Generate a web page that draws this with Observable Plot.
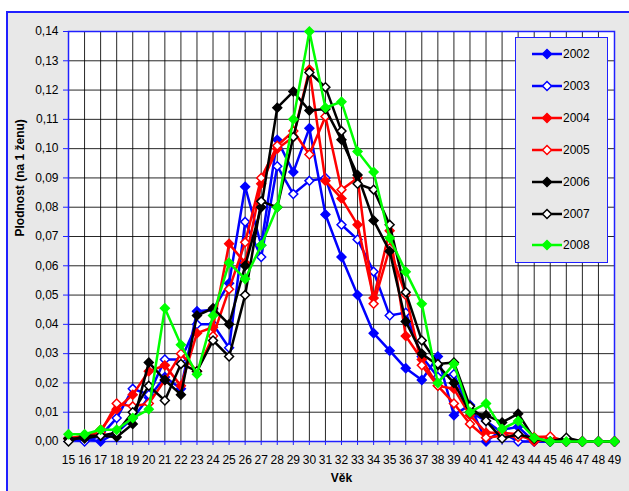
<!DOCTYPE html>
<html><head><meta charset="utf-8">
<script src="https://cdn.jsdelivr.net/npm/d3@7"></script>
<script src="https://cdn.jsdelivr.net/npm/@observablehq/plot@0.6"></script>
<style>
html,body{margin:0;padding:0;background:#fff;overflow:hidden;width:629px;height:491px;position:relative;}
#frame{position:absolute;left:6px;top:11px;width:640px;height:500px;background:#e8e8e8;border:2px solid #2020ff;box-sizing:border-box;}
#chart{position:absolute;left:0;top:0;}
#legend{position:absolute;left:515px;top:37px;width:93px;height:226px;background:#e8e8e8;border:1.5px solid #2020ff;box-sizing:border-box;font-family:"Liberation Sans",Arial,sans-serif;font-size:12px;}
.item{position:absolute;left:0;height:14px;}
.item svg{position:absolute;left:15px;top:0;}
.item span{position:absolute;left:47px;top:0;line-height:14px;}
</style></head><body>
<div id="frame"></div>
<div id="chart"></div>
<div id="legend"></div>
<script>
const ages = [15,16,17,18,19,20,21,22,23,24,25,26,27,28,29,30,31,32,33,34,35,36,37,38,39,40,41,42,43,44,45,46,47,48,49];
const yTicks = [0,0.01,0.02,0.03,0.04,0.05,0.06,0.07,0.08,0.09,0.10,0.11,0.12,0.13,0.14];
const years = ["2002","2003","2004","2005","2006","2007","2008"];

const y2002 = [0.001,0.001,0.000,0.003,0.008,0.015,0.022,0.018,0.0445,0.045,0.054,0.087,0.067,0.103,0.092,0.107,0.0775,0.063,0.050,0.037,0.031,0.025,0.021,0.029,0.009,0.0125,0.000,0.004,0.005,0,0,0,0,0,0];
const y2003 = [0.001,0.000,0.002,0.008,0.018,0.016,0.028,0.028,0.040,0.040,0.032,0.075,0.063,0.094,0.0845,0.089,0.090,0.074,0.069,0.058,0.043,0.044,0.029,0.022,0.023,0.010,0.007,0.003,0.000,0,0,0,0,0,0];
const y2004 = [0.001,0.002,0.004,0.011,0.016,0.024,0.026,0.019,0.037,0.039,0.0675,0.061,0.088,0.100,0.104,0.127,0.089,0.083,0.074,0.049,0.072,0.036,0.028,0.019,0.018,0.009,0.003,0.003,0.0025,0,0.001,0,0,0,0];
const y2005 = [0.001,0.002,0.003,0.013,0.012,0.013,0.021,0.030,0.024,0.036,0.052,0.068,0.090,0.101,0.106,0.098,0.111,0.086,0.090,0.047,0.066,0.050,0.026,0.019,0.013,0.006,0.0013,0.002,0.0015,0.0015,0.0017,0,0,0,0];
const y2006 = [0.001,0.001,0.002,0.0015,0.006,0.027,0.021,0.016,0.043,0.0455,0.040,0.060,0.080,0.114,0.1195,0.113,0.1135,0.103,0.091,0.0755,0.065,0.041,0.030,0.026,0.020,0.010,0.009,0.0065,0.0095,0.001,0,0,0,0,0];
const y2007 = [0.000,0.002,0.002,0.003,0.010,0.019,0.014,0.0265,0.024,0.0345,0.029,0.050,0.082,0.080,0.104,0.126,0.121,0.106,0.088,0.086,0.074,0.051,0.0345,0.0265,0.027,0.012,0.007,0.001,0.0025,0.001,0,0.0013,0,0,0];
const y2008 = [0.0025,0.0025,0.004,0.004,0.008,0.011,0.0455,0.033,0.023,0.043,0.061,0.0555,0.067,0.080,0.110,0.140,0.114,0.116,0.099,0.092,0.0695,0.058,0.047,0.020,0.0265,0.010,0.013,0.0043,0.007,0.0013,0,0,0,0,0];

const seriesValues = [y2002,y2003,y2004,y2005,y2006,y2007,y2008];
const colors = ["#0000ff","#0000ff","#ff0000","#ff0000","#000000","#000000","#00ff00"];
const filled = [true,false,true,false,true,false,true];

const rows = years.map((yr,i)=> ages.map((a,j)=>({year:yr, age:a, value:seriesValues[i][j]})));
const fmt = d => d.toFixed(2).replace(".", ",");

const marks = [
  Plot.frame({fill:"white", stroke:null}),
  Plot.gridX({ticks: ages, stroke:"#000", strokeOpacity:0.85}),
  Plot.gridY({ticks: yTicks, stroke:"#000", strokeOpacity:0.85}),
  Plot.frame({stroke:"#2020ff", strokeWidth:1.5}),
  Plot.axisY({ticks: yTicks, tickFormat: fmt, tickSize:5, tickPadding:5, stroke:"#2020ff", color:"#000", label:null}),
  Plot.axisX({ticks: ages, tickFormat: d=>String(d), tickSize:4, tickPadding:10, stroke:"#2020ff", color:"#000", label:null}),
  Plot.text(["Plodnost (na 1 ženu)"], {text:d=>d, frameAnchor:"left", dx:-48, rotate:-90, fontWeight:"bold", fontSize:12, fill:"#000"}),
  Plot.text(["Věk"], {text:d=>d, frameAnchor:"bottom", dy:40, fontWeight:"bold", fontSize:12, fill:"#000"})
];
rows.forEach((data,i)=>{
  marks.push(Plot.line(data,{x:"age", y:"value", stroke:colors[i], strokeWidth:2.5}));
  marks.push(Plot.dot(data,{x:"age", y:"value", symbol:"diamond2", r:4, fill: filled[i]?colors[i]:"#fff", stroke:colors[i], strokeWidth:1.5}));
});

const chart = Plot.plot({
  width:629, height:491,
  marginLeft:68, marginRight:15, marginTop:31, marginBottom:50,
  x:{type:"linear", domain:[15,49]},
  y:{domain:[0,0.14]},
  style:{background:"transparent", fontFamily:"'Liberation Sans', Arial, sans-serif", fontSize:"12px", color:"#000"},
  marks
});
document.getElementById("chart").appendChild(chart);

// legend
const legend = d3.select("#legend");
const rowTops = [16,48,80,112,144,176,207];
years.forEach((yr,i)=>{
  const it = legend.append("div").attr("class","item").style("top",(rowTops[i]-7)+"px");
  const svg = it.append("svg").attr("width",32).attr("height",14);
  svg.append("line").attr("x1",1).attr("x2",31).attr("y1",7).attr("y2",7).attr("stroke",colors[i]).attr("stroke-width",2.5);
  svg.append("path").attr("d","M16,2.5L20.5,7L16,11.5L11.5,7Z").attr("fill",filled[i]?colors[i]:"#fff").attr("stroke",colors[i]).attr("stroke-width",1.5);
  it.append("span").text(yr);
});
</script>
</body></html>
